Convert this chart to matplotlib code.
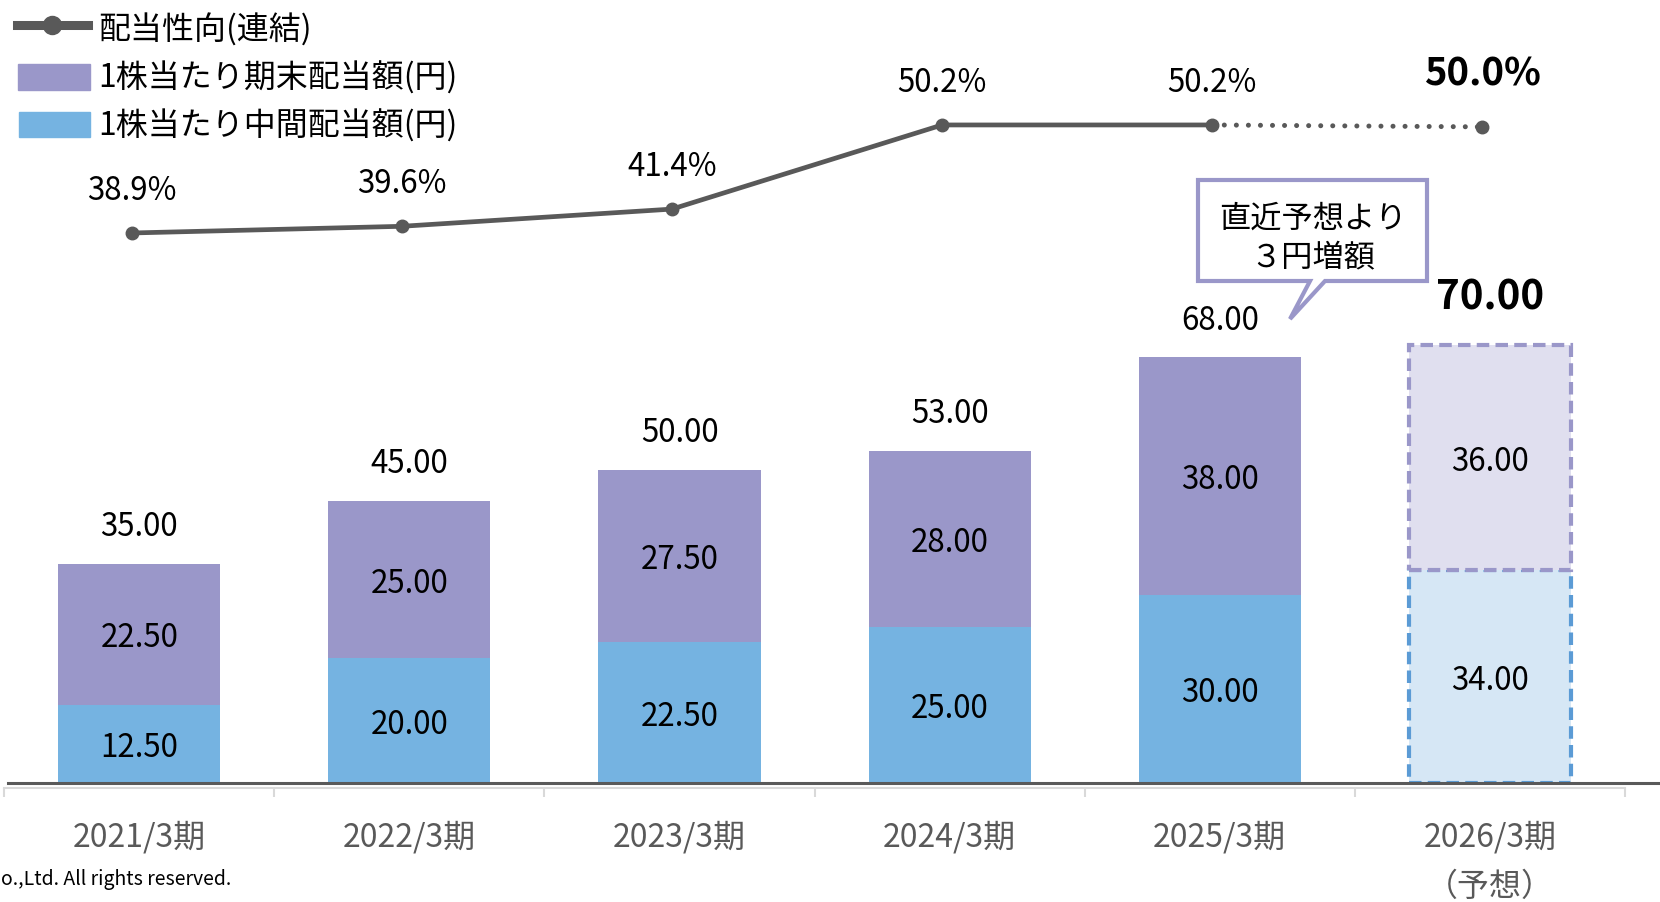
import matplotlib
matplotlib.use('Agg')
import matplotlib.pyplot as plt
from matplotlib.patches import Polygon, Rectangle
from matplotlib.lines import Line2D
import numpy as np

plt.rcParams['font.family'] = ['Noto Sans CJK JP', 'DejaVu Sans']

years = ['2021/3期', '2022/3期', '2023/3期', '2024/3期', '2025/3期', '2026/3期']
interim = [12.50, 20.00, 22.50, 25.00, 30.00, 34.00]
year_end = [22.50, 25.00, 27.50, 28.00, 38.00, 36.00]
payout = [38.9, 39.6, 41.4, 50.2, 50.2, 50.0]

BLUE = '#75B3E1'
PURPLE = '#9A97C9'
GREY = '#595959'

W, H = 1660, 902
def fx(x):
    return x / W
def fy(y):
    return 1 - y / H

fig = plt.figure(figsize=(16.6, 9.02), dpi=100)
ax = fig.add_axes([fx(4.2), fy(783), (1625 - 4.2) / W, 783 / H])
ax.set_xlim(-0.5, 5.5)
ax.set_ylim(0, 783 / 6.26)

x = np.arange(len(years))
totals = [a + b for a, b in zip(interim, year_end)]

# actual years
ax.bar(x[:-1], interim[:-1], 0.6, color=BLUE, zorder=2)
ax.bar(x[:-1], year_end[:-1], 0.6, bottom=interim[:-1], color=PURPLE, zorder=2)
# forecast
ax.bar(x[-1], interim[-1], 0.6, color='#D6E7F5', edgecolor='#5B9BD5',
       linestyle=(0, (3, 1.5)), linewidth=3, zorder=2)
ax.bar(x[-1], year_end[-1], 0.6, bottom=interim[-1], color='#E0DFEF', edgecolor=PURPLE,
       linestyle=(0, (3, 1.5)), linewidth=3, zorder=3)

def lab(a, txt, xy, dy, **kw):
    a.annotate(txt, xy, xytext=(0, dy), textcoords='offset points',
               ha='center', va='center', **kw)

for i in x:
    lab(ax, f'{interim[i]:.2f}', (i, interim[i] / 2), -3, fontsize=22.5, zorder=5)
    lab(ax, f'{year_end[i]:.2f}', (i, interim[i] + year_end[i] / 2), -3, fontsize=22.5, zorder=5)
    if i < 5:
        lab(ax, f'{totals[i]:.2f}', (i, totals[i]), 26.5, fontsize=22.5)
    else:
        lab(ax, f'{totals[i]:.2f}', (i, totals[i]), 34, fontsize=29, fontweight='bold')

# axis
for s in ['top', 'left', 'right']:
    ax.spines[s].set_visible(False)
ax.spines['bottom'].set_position(('outward', 3.6))
ax.spines['bottom'].set_color('#D9D9D9')
ax.spines['bottom'].set_linewidth(1.5)
ax.set_yticks([])
ax.set_xticks([])
ax.set_xticks(np.arange(-0.5, 6, 1), minor=True)
ax.tick_params(axis='x', which='minor', length=6.5, width=1.5, color='#D9D9D9')
ax.axhline(0, xmin=(8 - 4.2) / 1620.9, xmax=(1660 - 4.2) / 1620.9, color=GREY, lw=2.2,
           clip_on=False, zorder=6)

tr = ax.get_xaxis_transform()
for i, y in enumerate(years):
    ax.text(i, (783 - 837) / 783, y, transform=tr, ha='center', va='center',
            fontsize=23, color=GREY)
ax.text(5, (783 - 887) / 783, '（予想）', transform=tr, ha='center', va='center',
        fontsize=23, color=GREY)

# payout ratio line
ax2 = ax.twinx()
ax2.set_ylim(-18.63, 63.27)
ax2.axis('off')
xl = x - 0.028
ax2.plot(xl[:5], payout[:5], color=GREY, lw=3.4, marker='o', ms=9, solid_capstyle='round')
ax2.plot(xl[4:], payout[4:], color=GREY, lw=3.6, linestyle=(0, (0.01, 2.4)),
         dash_capstyle='round')
ax2.plot(xl[5], payout[5], color=GREY, marker='o', ms=9, lw=0)
for i in x:
    if i < 5:
        lab(ax2, f'{payout[i]:.1f}%', (xl[i], payout[i]), 30.5, fontsize=22.5)
    else:
        lab(ax2, f'{payout[i]:.1f}%', (xl[i], payout[i]), 38, fontsize=27.5, fontweight='bold')

# legend
fig.add_artist(Line2D([fx(17), fx(88)], [fy(25), fy(25)], color=GREY, lw=6.5))
fig.add_artist(Line2D([fx(52)], [fy(25)], color=GREY, marker='o', ms=13))
fig.add_artist(Rectangle((fx(18), fy(90)), fx(90) - fx(18), fy(63.5) - fy(90),
                         color=PURPLE, transform=fig.transFigure))
fig.add_artist(Rectangle((fx(19), fy(137)), fx(90) - fx(19), fy(112) - fy(137),
                         color=BLUE, transform=fig.transFigure))
fig.text(fx(98), fy(30), '配当性向(連結)', va='center', fontsize=23)
fig.text(fx(98), fy(78), '1株当たり期末配当額(円)', va='center', fontsize=23)
fig.text(fx(98), fy(126), '1株当たり中間配当額(円)', va='center', fontsize=23)

# callout
pts = [(1198, 180), (1427, 180), (1427, 281), (1325, 281), (1290, 319), (1310, 281), (1198, 281)]
fig.add_artist(Polygon([(fx(a), fy(b)) for a, b in pts], closed=True, facecolor='white',
                       edgecolor=PURPLE, lw=3, transform=fig.transFigure))
fig.text(fx(1313), fy(219), '直近予想より', ha='center', va='center', fontsize=22.5)
fig.text(fx(1313), fy(257), '３円増額', ha='center', va='center', fontsize=22.5)

fig.text(fx(1), fy(879), 'o.,Ltd. All rights reserved.', ha='left', va='center', fontsize=14)

fig.savefig('out.png', dpi=100)
